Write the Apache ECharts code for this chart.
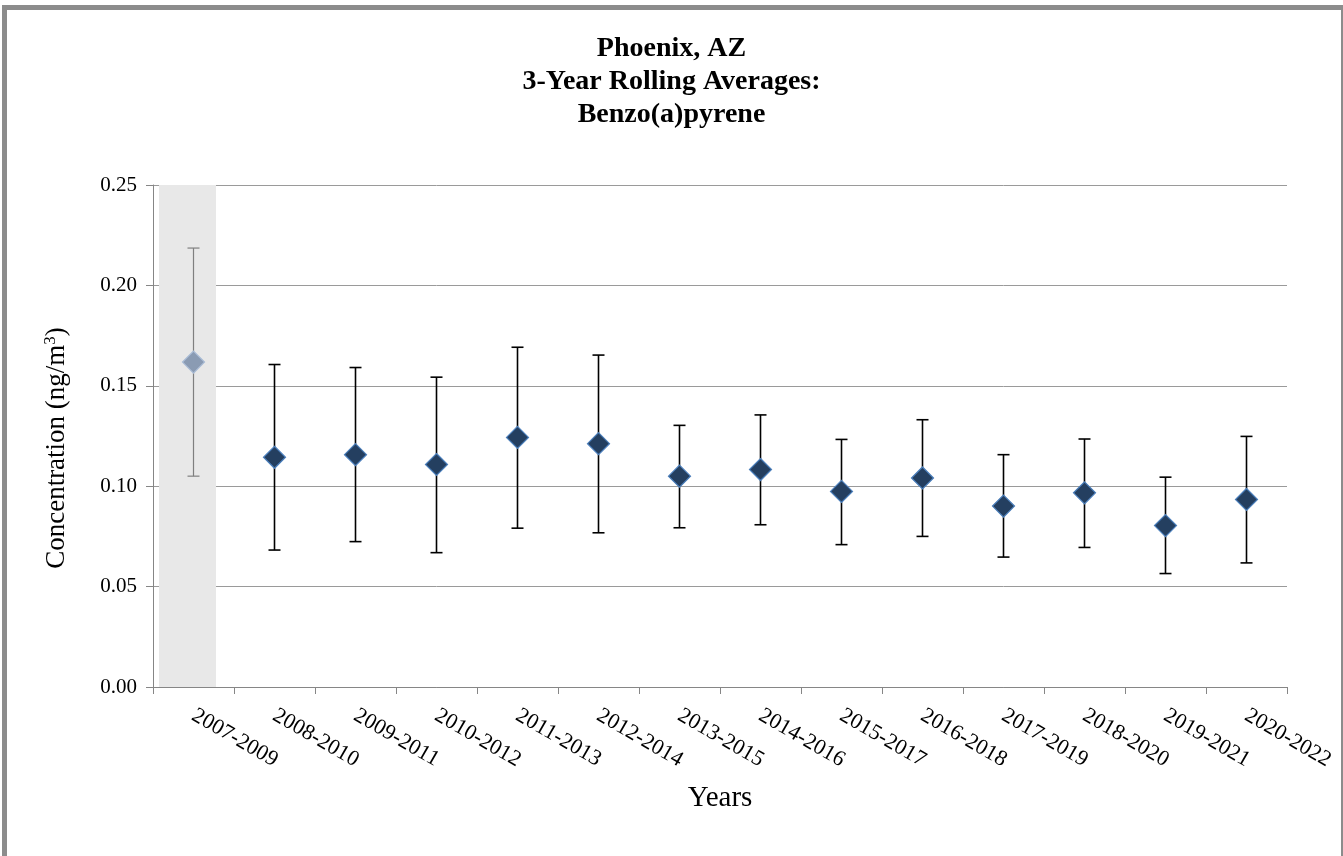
<!DOCTYPE html>
<html>
<head>
<meta charset="utf-8">
<title>Phoenix, AZ - Benzo(a)pyrene</title>
<script src="https://cdn.jsdelivr.net/npm/echarts@6/dist/echarts.min.js"></script>
<style>
  html, body { margin: 0; padding: 0; background: #fff; }
  #main { position: absolute; left: 0; top: 0; width: 1343px; height: 856px; }
  /* grey frame round the chart, bottom edge is off the picture */
  #frame { position: absolute; left: 2px; top: 5px; width: 1334px; height: 900px;
           border-left: 5px solid #8c8c8c; border-top: 5px solid #8c8c8c; border-right: 2px solid #8c8c8c;
           pointer-events: none; }
</style>
</head>
<body>
<div id="main"></div>
<div id="frame"></div>
<script>
// 3-year periods
var periods = ['2007-2009', '2008-2010', '2009-2011', '2010-2012', '2011-2013', '2012-2014', '2013-2015',
               '2014-2016', '2015-2017', '2016-2018', '2017-2019', '2018-2020', '2019-2021', '2020-2022'];
// rolling average (ng/m3)
var averages = [0.1618, 0.1144, 0.1157, 0.1108, 0.1243, 0.1212, 0.1050,
                0.1083, 0.0974, 0.1041, 0.0901, 0.0967, 0.0804, 0.0934];
// error bar top / bottom
var upper = [0.2186, 0.1606, 0.1591, 0.1543, 0.1692, 0.1653, 0.1303,
             0.1355, 0.1233, 0.1331, 0.1157, 0.1235, 0.1045, 0.1248];
var lower = [0.1050, 0.0682, 0.0724, 0.0669, 0.0791, 0.0768, 0.0793,
             0.0808, 0.0709, 0.0750, 0.0647, 0.0695, 0.0565, 0.0618];
// periods drawn greyed out with a shaded band
var shadedPeriods = ['2007-2009'];
// y axis ticks
var yTicks = [0, 0.05, 0.10, 0.15, 0.20, 0.25];

var yMin = yTicks[0];
var yMax = yTicks[yTicks.length - 1];
var yStep = yTicks[1] - yTicks[0];

var myChart = echarts.init(document.getElementById('main'));

var serif = 'Liberation Serif';

var barData = [];
var errData = [];
var pointData = [];
for (var i = 0; i < periods.length; i++) {
    var shaded = shadedPeriods.indexOf(periods[i]) >= 0;
    barData.push(shaded ? yMax : null);
    errData.push([i, upper[i], lower[i], shaded ? 1 : 0]);
    pointData.push({
        value: averages[i],
        itemStyle: shaded
            ? { color: '#8a9bb3', borderColor: '#a9bcd6', borderWidth: 1.2, opacity: 1 }
            : { color: '#243f60', borderColor: '#4a7ebb', borderWidth: 1.2, opacity: 1 }
    });
}

var option = {
    animation: false,
    backgroundColor: '#fff',
    textStyle: { fontFamily: serif },
    title: {
        text: 'Phoenix, AZ\n3-Year Rolling Averages:\nBenzo(a)pyrene',
        left: 'center',
        top: 27,
        padding: [5, 13, 5, 5],
        textStyle: {
            fontFamily: serif,
            fontSize: 28,
            fontWeight: 'bold',
            color: '#000',
            lineHeight: 33
        }
    },
    grid: {
        left: 153,
        right: 56,
        top: 185,
        bottom: 169,
        containLabel: false
    },
    xAxis: {
        type: 'category',
        data: periods,
        boundaryGap: true,
        name: 'Years',
        nameLocation: 'middle',
        nameGap: 97,
        nameTextStyle: { fontFamily: serif, fontSize: 29, color: '#000', verticalAlign: 'top' },
        axisLine: { lineStyle: { color: '#868686', width: 1 } },
        axisTick: { show: true, length: 7, lineStyle: { color: '#868686' } },
        axisLabel: {
            interval: 0,
            rotate: -30,
            margin: 27,
            fontFamily: serif,
            fontSize: 22,
            color: '#000'
        },
        splitLine: { show: false }
    },
    yAxis: {
        type: 'value',
        min: yMin,
        max: yMax,
        interval: yStep,
        // superscript 3 done with rich text
        name: '{a|Concentration (ng/m}{s|3}{a|)}',
        nameLocation: 'middle',
        nameGap: 81,
        nameTextStyle: {
            fontFamily: serif,
            color: '#000',
            padding: [0, 24, 0, 0],
            rich: {
                a: { fontFamily: serif, fontSize: 27, color: '#000', lineHeight: 30 },
                s: { fontFamily: serif, fontSize: 17, color: '#000', lineHeight: 30, verticalAlign: 'top' }
            }
        },
        axisLine: { show: true, lineStyle: { color: '#868686', width: 1 } },
        axisTick: { show: true, length: 7, lineStyle: { color: '#868686' } },
        axisLabel: {
            margin: 16,
            fontFamily: serif,
            fontSize: 21,
            color: '#000',
            formatter: function (v) { return v.toFixed(2); }
        },
        splitLine: { lineStyle: { color: '#9a9a9a', width: 1 } }
    },
    series: [
        {
            // shaded band behind greyed periods
            type: 'bar',
            data: barData,
            barWidth: 57,
            barGap: '-79%',
            silent: true,
            itemStyle: { color: '#e8e8e8' },
            z: 1
        },
        {
            // empty partner bar, only pushes the band a little to the left like the original
            type: 'bar',
            data: periods.map(function () { return null; }),
            barWidth: 57,
            silent: true
        },
        {
            // error bars
            type: 'custom',
            data: errData,
            z: 3,
            renderItem: function (params, api) {
                var x = api.value(0);
                var top = api.coord([x, api.value(1)]);
                var bot = api.coord([x, api.value(2)]);
                var grey = api.value(3) === 1;
                var st = { stroke: grey ? '#7f7f7f' : '#000', lineWidth: grey ? 1.2 : 1.6 };
                var cap = 6;
                return {
                    type: 'group',
                    children: [
                        { type: 'line', shape: { x1: top[0], y1: top[1], x2: bot[0], y2: bot[1] }, style: st },
                        { type: 'line', shape: { x1: top[0] - cap, y1: top[1], x2: top[0] + cap, y2: top[1] }, style: st },
                        { type: 'line', shape: { x1: bot[0] - cap, y1: bot[1], x2: bot[0] + cap, y2: bot[1] }, style: st }
                    ]
                };
            }
        },
        {
            // averages
            type: 'scatter',
            data: pointData,
            symbol: 'diamond',
            symbolSize: [22, 22],
            z: 5
        }
    ]
};
myChart.setOption(option);
</script>
</body>
</html>
